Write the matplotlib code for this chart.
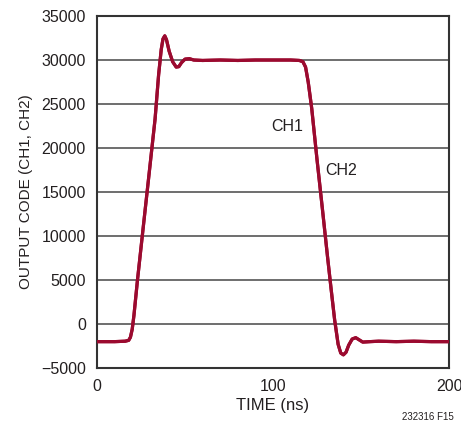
import matplotlib
matplotlib.use("Agg")
import matplotlib.pyplot as plt

plt.rcParams['font.family'] = ['Liberation Sans', 'DejaVu Sans']

# time (ns) and output code, CH1 and CH2 overlap
t_ns = [0, 10, 16, 18, 19, 20, 21, 23, 26, 30, 33, 35, 36.5, 37.5, 38.5, 39.5,
        41, 43, 45, 46.5, 48, 50, 52.5, 55, 60, 70, 80, 90, 100, 110, 115, 117,
        118.5, 120, 122, 125, 128, 131, 133, 135, 137, 138.5, 140, 141.5, 143,
        145, 147, 149, 151, 155, 160, 170, 180, 190, 200]
ch1 = [-2000, -2000, -1950, -1850, -1500, -600, 1000, 5000, 10500, 17800, 23300,
       28300, 31200, 32400, 32750, 32300, 31000, 29800, 29200, 29250, 29700,
       30100, 30150, 30000, 29950, 30000, 29950, 30000, 30000, 30000, 29950,
       29800, 29200, 27500, 24500, 18700, 13200, 7600, 4000, 500, -2300, -3300,
       -3500, -3200, -2400, -1700, -1550, -1800, -2050, -2000, -1950, -2000,
       -1950, -2000, -2000]
ch2 = list(ch1)

yticks = [-5000, 0, 5000, 10000, 15000, 20000, 25000, 30000, 35000]
xticks = [0, 100, 200]

fig = plt.figure(figsize=(4.61, 4.33), dpi=100)
ax = fig.add_axes([0.2104, 0.150, 0.7636, 0.813])

for v in yticks[1:-1]:
    ax.axhline(v, color='#555555', lw=1.2, zorder=1)

ax.plot(t_ns, ch2, color='#9b0a2f', lw=2.3, solid_joinstyle='round', zorder=3)
ax.plot(t_ns, ch1, color='#9b0a2f', lw=2.3, solid_joinstyle='round', zorder=3)

ax.set_xlim(0, 200)
ax.set_ylim(-5000, 35000)
ax.set_xticks(xticks)
ax.set_yticks(yticks)
ax.tick_params(length=0, labelsize=11.5, colors='#231f20', pad=8)
for s in ax.spines.values():
    s.set_color('#333333')
    s.set_linewidth(1.5)

ax.set_xlabel('TIME (ns)', fontsize=12, color='#231f20', labelpad=3)
ax.set_ylabel('OUTPUT CODE (CH1, CH2)', fontsize=11, color='#231f20', labelpad=6)

ax.text(108, 22400, 'CH1', fontsize=11.5, color='#231f20', ha='center', va='center')
ax.text(138.5, 17500, 'CH2', fontsize=11.5, color='#231f20', ha='center', va='center')

fig.text(0.928, 0.037, '232316 F15', fontsize=7, color='#231f20', ha='center', va='center')

fig.savefig('out.png', dpi=100)
